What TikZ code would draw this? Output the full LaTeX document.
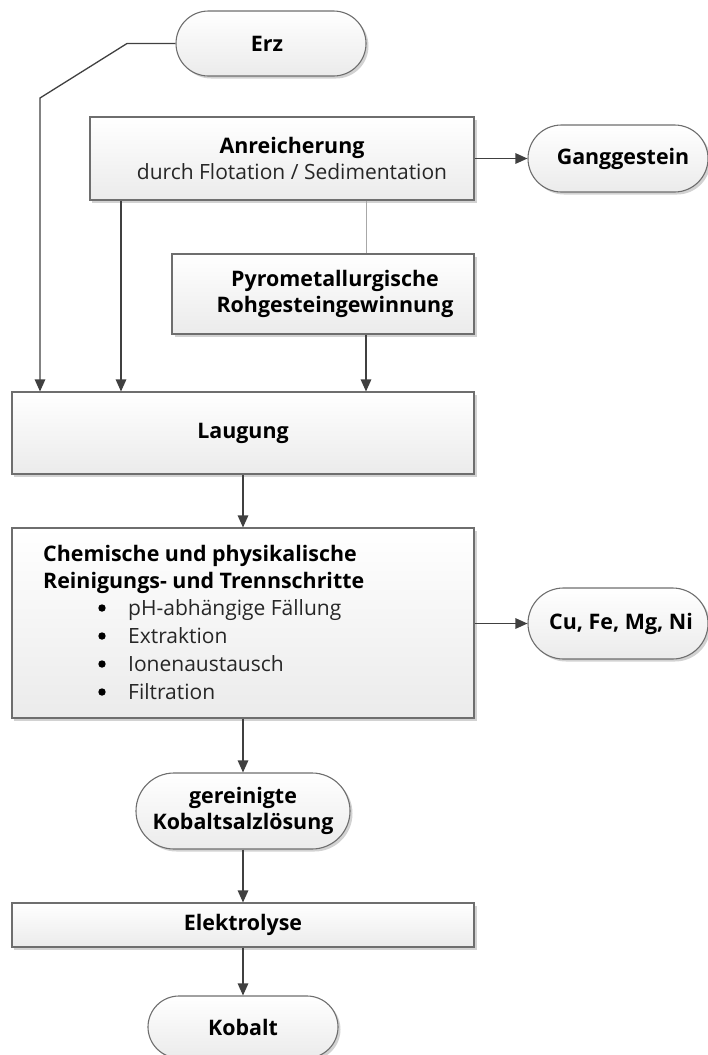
\documentclass[tikz,border=0pt]{standalone}
\usepackage{fontspec}
\setmainfont{Open Sans}
\usetikzlibrary{arrows.meta,shadows,shapes.misc}

\definecolor{edge}{HTML}{6E6E6E}
\definecolor{wire}{HTML}{404040}
\definecolor{fillbot}{HTML}{EBEBEB}
\definecolor{shade}{HTML}{D2D2D2}
\definecolor{thinwire}{HTML}{A8A8A8}

\newcommand{\boldsize}{\fontsize{21.4bp}{27bp}\selectfont\bfseries}
\newcommand{\plainsize}{\fontsize{21bp}{27bp}\selectfont\mdseries}

\tikzset{
  base/.style={draw=edge, line width=1.1bp, top color=white, bottom color=fillbot,
    drop shadow={shadow xshift=2.5bp, shadow yshift=-2.5bp, fill=shade, opacity=1},
    inner sep=0pt, align=center, font=\boldsize},
  stepbox/.style={base, rectangle},
  pill/.style={base, rounded rectangle},
  lbl/.style={inner sep=0pt, align=center, font=\boldsize},
  txt/.style={inner sep=0pt, font=\boldsize},
  itemtxt/.style={inner sep=0pt, text=black!85, font=\plainsize},
  arr/.style={draw=wire, line width=1.3bp, -{Triangle[length=12bp,width=10.5bp]}},
  link/.style={draw=thinwire, line width=0.7bp},
}

\begin{document}
\begin{tikzpicture}[x=1bp, y=-1bp]
\useasboundingbox (0,0) rectangle (708,1055);

% process steps and products
\node[pill, minimum width=190bp, minimum height=65bp] (erz) at (271,43.5) {};
\node[lbl] (erztxt) at ([xshift=-4bp]erz.center) {Erz};
\node[stepbox, minimum width=384bp, minimum height=83bp] (anr) at (282,158.5) {};
\node[lbl] (anrtxt) at ([xshift=10bp]anr.center)
  {Anreicherung\\[-1bp]{\plainsize\color{black!85} durch Flotation / Sedimentation}};
\node[pill, minimum width=180bp, minimum height=67bp] (gang) at (618,158.5) {};
\node[lbl] (gangtxt) at ([xshift=5bp]gang.center) {Ganggestein};
\node[stepbox, minimum width=302bp, minimum height=80bp] (pyro) at (323,294) {};
\node[lbl] (pyrotxt) at ([xshift=12bp]pyro.center)
  {Pyrometallurgische\\[-1bp]Rohgesteingewinnung};
\node[stepbox, minimum width=462bp, minimum height=82bp] (laug) at (243,433) {Laugung};
\node[stepbox, minimum width=462bp, minimum height=190bp] (chem) at (243,623) {};
\node[pill, minimum width=180bp, minimum height=71bp] (cu) at (618,623.5) {};
\node[lbl] (cutxt) at ([xshift=3bp]cu.center) {Cu, Fe, Mg, Ni};
\node[pill, minimum width=214bp, minimum height=76bp] (ger) at (243,811)
  {gereinigte\\[-1bp]Kobaltsalzlösung};
\node[stepbox, minimum width=462bp, minimum height=44bp] (elek) at (243,925) {Elektrolyse};
\node[pill, minimum width=190bp, minimum height=62bp] (kob) at (243,1027) {Kobalt};

% contents of the purification step
\node[txt, anchor=base west] (c1) at (43,561) {Chemische und physikalische};
\node[txt, anchor=base west] (c2) at (43,588) {Reinigungs- und Trennschritte};
\node[itemtxt, anchor=base west] (i1) at (128,615) {pH-abhängige Fällung};
\node[itemtxt, anchor=base west] (i2) at (128,643) {Extraktion};
\node[itemtxt, anchor=base west] (i3) at (128,671) {Ionenaustausch};
\node[itemtxt, anchor=base west] (i4) at (128,699) {Filtration};
\foreach \yy in {615,643,671,699} \fill[black] (102,\yy-7) circle (3.7);

% routing points
\coordinate (e1) at (127,43.5);
\coordinate (e2) at (40,98);
\coordinate (xa) at (121,0);
\coordinate (xb) at (366,0);

% connectors
\draw[arr] (erz.west) -- (e1) -- (e2) -- (laug.north -| e2);
\draw[arr] (anr.south -| xa) -- (laug.north -| xa);
\draw[link] (anr.south -| xb) -- (pyro.north -| xb);
\draw[arr] (pyro.south -| xb) -- (laug.north -| xb);
\draw[arr] (anr.east) -- (gang.west);
\draw[arr] (laug.south) -- (chem.north);
\draw[arr] (chem.east |- cu.west) -- (cu.west);
\draw[arr] (chem.south) -- (ger.north);
\draw[arr] (ger.south) -- (elek.north);
\draw[arr] (elek.south) -- (kob.north);
\end{tikzpicture}
\end{document}
